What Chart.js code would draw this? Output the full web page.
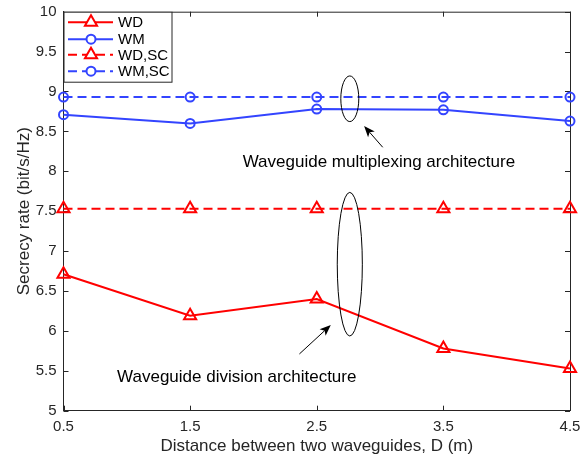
<!DOCTYPE html>
<html>
<head>
<meta charset="utf-8">
<script src="https://cdn.jsdelivr.net/npm/chart.js@4.4.1/dist/chart.umd.min.js"></script>
<style>
  html, body { margin: 0; padding: 0; background: #fff; }
  #wrap { width: 585px; height: 455px; }
</style>
</head>
<body>
<div id="wrap"><canvas id="chart" width="585" height="455"></canvas></div>
<script>
const distances = [0.5, 1.5, 2.5, 3.5, 4.5];
const wd = [6.71, 6.19, 6.40, 5.78, 5.53];
const wm = [8.71, 8.60, 8.78, 8.77, 8.63];
const wdSc = [7.53, 7.53, 7.53, 7.53, 7.53];
const wmSc = [8.93, 8.93, 8.93, 8.93, 8.93];
const seriesNames = ['WD', 'WM', 'WD,SC', 'WM,SC'];
const xTicks = [0.5, 1.5, 2.5, 3.5, 4.5];
const yTicks = [5, 5.5, 6, 6.5, 7, 7.5, 8, 8.5, 9, 9.5, 10];

const red = '#ff0000';
const blue = '#3344ff';
const axisColor = '#262626';
const fontFamily = "'Liberation Sans', Arial, Helvetica, sans-serif";

// annotations in data coordinates
const ellipses = [
  { x: 2.761, y: 8.909, rx: 0.071, ry: 0.286 },
  { x: 2.761, y: 6.836, rx: 0.099, ry: 0.90 }
];
const arrows = [
  { from: [3.021, 8.301], to: [2.874, 8.568] },
  { from: [2.363, 5.711], to: [2.611, 6.074] }
];
const notes = [
  { text: 'Waveguide multiplexing architecture', x: 1.915, y: 8.108 },
  { text: 'Waveguide division architecture', x: 0.923, y: 5.415 }
];

function points(ys) {
  return distances.map((d, i) => ({ x: d, y: ys[i] }));
}

function makeSet(label, ys, color, dashed, marker) {
  return {
    label: label,
    data: points(ys),
    borderColor: color,
    backgroundColor: 'rgba(0,0,0,0)',
    borderWidth: 2,
    borderDash: dashed ? [9, 5] : [],
    pointStyle: marker,
    pointRadius: marker === 'triangle' ? 7 : 4.5,
    pointBorderWidth: 2,
    pointBorderColor: color,
    pointBackgroundColor: 'rgba(0,0,0,0)',
    tension: 0,
    clip: false
  };
}

const boxAndTicks = {
  id: 'boxAndTicks',
  beforeDatasetsDraw(chart) {
    const { ctx, chartArea: { left, top, right, bottom }, scales: { x, y } } = chart;
    ctx.save();
    ctx.strokeStyle = axisColor;
    ctx.lineWidth = 1;
    ctx.beginPath();
    ctx.moveTo(left, top + 0.5);
    ctx.lineTo(right, top + 0.5);
    ctx.moveTo(right + 0.5, top);
    ctx.lineTo(right + 0.5, bottom);
    const len = 5;
    xTicks.forEach(v => {
      const px = Math.round(x.getPixelForValue(v)) + 0.5;
      ctx.moveTo(px, bottom);
      ctx.lineTo(px, bottom - len);
      ctx.moveTo(px, top);
      ctx.lineTo(px, top + len);
    });
    yTicks.forEach(v => {
      const py = Math.round(y.getPixelForValue(v)) + 0.5;
      ctx.moveTo(left, py);
      ctx.lineTo(left + len, py);
      ctx.moveTo(right, py);
      ctx.lineTo(right - len, py);
    });
    ctx.stroke();
    ctx.restore();
  }
};

const annotations = {
  id: 'annotations',
  afterDatasetsDraw(chart) {
    const { ctx, scales: { x, y } } = chart;
    ctx.save();
    ctx.strokeStyle = '#000';
    ctx.lineWidth = 1;
    ellipses.forEach(e => {
      const cx = x.getPixelForValue(e.x);
      const cy = y.getPixelForValue(e.y);
      const rx = Math.abs(x.getPixelForValue(e.x + e.rx) - cx);
      const ry = Math.abs(y.getPixelForValue(e.y + e.ry) - cy);
      ctx.beginPath();
      ctx.ellipse(cx, cy, rx, ry, 0, 0, Math.PI * 2);
      ctx.stroke();
    });
    arrows.forEach(a => {
      const x1 = x.getPixelForValue(a.from[0]), y1 = y.getPixelForValue(a.from[1]);
      const x2 = x.getPixelForValue(a.to[0]), y2 = y.getPixelForValue(a.to[1]);
      const ang = Math.atan2(y2 - y1, x2 - x1);
      const head = 12, wing = 0.38;
      ctx.beginPath();
      ctx.moveTo(x1, y1);
      ctx.lineTo(x2 - Math.cos(ang) * head * 0.7, y2 - Math.sin(ang) * head * 0.7);
      ctx.stroke();
      ctx.beginPath();
      ctx.moveTo(x2, y2);
      ctx.lineTo(x2 - head * Math.cos(ang - wing), y2 - head * Math.sin(ang - wing));
      ctx.lineTo(x2 - head * 0.7 * Math.cos(ang), y2 - head * 0.7 * Math.sin(ang));
      ctx.lineTo(x2 - head * Math.cos(ang + wing), y2 - head * Math.sin(ang + wing));
      ctx.closePath();
      ctx.fillStyle = '#000';
      ctx.fill();
    });
    ctx.fillStyle = '#000';
    ctx.font = '17px ' + fontFamily;
    ctx.textAlign = 'left';
    ctx.textBaseline = 'middle';
    notes.forEach(n => {
      ctx.fillText(n.text, x.getPixelForValue(n.x), y.getPixelForValue(n.y));
    });
    ctx.restore();
  }
};

const matlabLegend = {
  id: 'matlabLegend',
  afterDraw(chart) {
    const { ctx, chartArea: { left, top } } = chart;
    const bx = left + 0.5, by = top, bw = 108, bh = 70;
    ctx.save();
    ctx.fillStyle = '#fff';
    ctx.fillRect(bx, by, bw, bh);
    ctx.strokeStyle = axisColor;
    ctx.lineWidth = 1;
    ctx.strokeRect(bx, by + 0.5, bw, bh);
    const rows = [10.5, 27.5, 43, 59.5];
    chart.data.datasets.forEach((ds, i) => {
      const yy = by + rows[i];
      ctx.strokeStyle = ds.borderColor;
      ctx.lineWidth = 2;
      ctx.setLineDash(ds.borderDash);
      ctx.beginPath();
      ctx.moveTo(bx + 4, yy);
      ctx.lineTo(bx + 49, yy);
      ctx.stroke();
      ctx.setLineDash([]);
      const mx = bx + 27;
      ctx.beginPath();
      if (ds.pointStyle === 'triangle') {
        const r = ds.pointRadius;
        ctx.moveTo(mx, yy - r);
        ctx.lineTo(mx + r * 0.866, yy + r * 0.5);
        ctx.lineTo(mx - r * 0.866, yy + r * 0.5);
        ctx.closePath();
      } else {
        ctx.arc(mx, yy, ds.pointRadius, 0, Math.PI * 2);
      }
      ctx.fillStyle = '#fff';
      ctx.fill();
      ctx.stroke();
      ctx.fillStyle = '#000';
      ctx.font = '15px ' + fontFamily;
      ctx.textAlign = 'left';
      ctx.textBaseline = 'middle';
      ctx.fillText(ds.label, bx + 54, yy + 1);
    });
    ctx.restore();
  }
};

new Chart(document.getElementById('chart'), {
  type: 'line',
  data: {
    datasets: [
      makeSet(seriesNames[0], wd, red, false, 'triangle'),
      makeSet(seriesNames[1], wm, blue, false, 'circle'),
      makeSet(seriesNames[2], wdSc, red, true, 'triangle'),
      makeSet(seriesNames[3], wmSc, blue, true, 'circle')
    ]
  },
  plugins: [boxAndTicks, annotations, matlabLegend],
  options: {
    responsive: false,
    animation: false,
    layout: {
      padding: { top: 11.7, right: 15, left: 0, bottom: 0 }
    },
    scales: {
      x: {
        type: 'linear',
        min: 0.5,
        max: 4.5,
        afterBuildTicks: (axis) => {
          axis.ticks = xTicks.map(v => ({ value: v }));
        },
        afterFit: (axis) => {
          axis.height = 44.3;
          axis.paddingLeft = 0;
          axis.paddingRight = 0;
        },
        grid: { display: false, drawTicks: false },
        border: { display: true, color: axisColor, width: 1 },
        ticks: {
          color: axisColor,
          padding: 7,
          maxRotation: 0,
          autoSkip: false,
          font: { family: fontFamily, size: 15 },
          callback: (v) => Number(v).toFixed(1)
        },
        title: {
          display: true,
          text: 'Distance between two waveguides, D (m)',
          color: axisColor,
          padding: { top: 0, bottom: -2 },
          font: { family: fontFamily, size: 17 }
        }
      },
      y: {
        min: 5,
        max: 10,
        afterBuildTicks: (axis) => {
          axis.ticks = yTicks.map(v => ({ value: v }));
        },
        afterFit: (axis) => {
          axis.width = 63.5;
          axis.paddingTop = 0;
          axis.paddingBottom = 0;
        },
        grid: { display: false, drawTicks: false },
        border: { display: true, color: axisColor, width: 1 },
        ticks: {
          color: axisColor,
          padding: 7,
          autoSkip: false,
          font: { family: fontFamily, size: 15 },
          callback: (v) => String(v)
        },
        title: {
          display: true,
          text: 'Secrecy rate (bit/s/Hz)',
          color: axisColor,
          padding: { top: 14, bottom: 0 },
          font: { family: fontFamily, size: 17 }
        }
      }
    },
    plugins: {
      legend: { display: false },
      tooltip: { enabled: false }
    }
  }
});
</script>
</body>
</html>
